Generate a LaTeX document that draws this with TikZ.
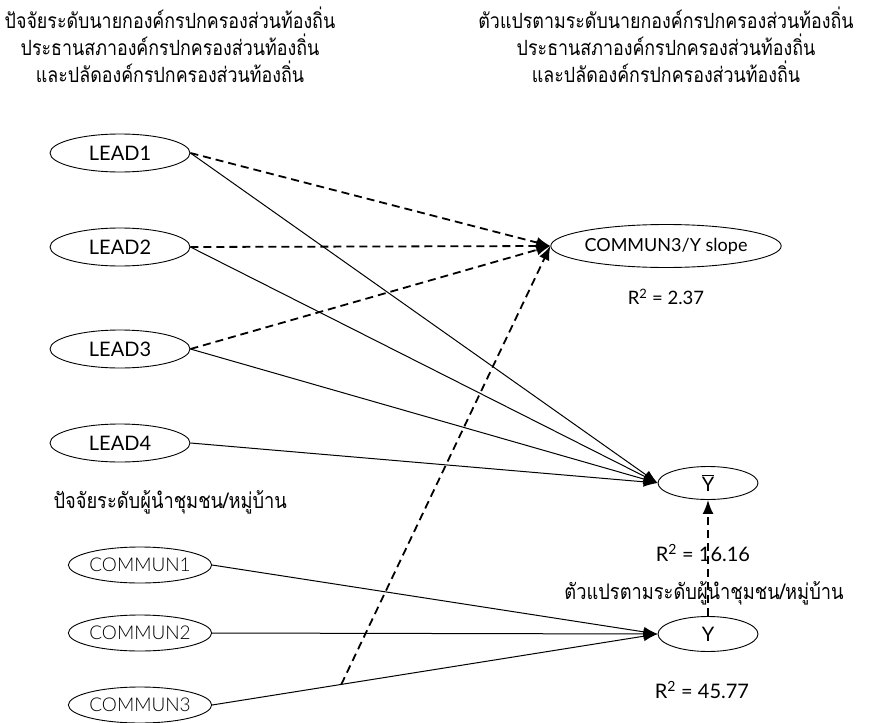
\documentclass[tikz,border=0pt]{standalone}
\usepackage{fontspec}
\setmainfont{Lato}
\newfontfamily\thaifont[Script=Thai,FakeStretch=0.85]{Loma}
\newfontfamily\lightfont{Lato Light}
\usetikzlibrary{shapes.geometric,arrows.meta,calc}

\begin{document}
\begin{tikzpicture}[x=1pt,y=-1pt,
    var/.style={draw,ellipse,line width=0.9pt,inner sep=0pt,font=\fontsize{20}{24}\selectfont},
    comm/.style={var,font=\lightfont\fontsize{19}{24}\selectfont,minimum width=135pt,minimum height=36pt},
    thai/.style={font=\thaifont\fontsize{21}{27}\selectfont,align=center},
    rsq/.style={font=\fontsize{20}{24}\selectfont},
    path/.style={-{Latex[length=14pt,width=10pt]},line width=1pt},
    mod/.style={-{Latex[length=14pt,width=11pt]},line width=1.8pt,dash pattern=on 8pt off 5pt}]
    \useasboundingbox (0,0) rectangle (876,723);
    % headings
    \node[thai] (headL) at (170,45) {ปัจจัยระดับนายกองค์กรปกครองส่วนท้องถิ่น\\ประธานสภาองค์กรปกครองส่วนท้องถิ่น\\และปลัดองค์กรปกครองส่วนท้องถิ่น};
    \node[thai] (headR) at (666,45) {ตัวแปรตามระดับนายกองค์กรปกครองส่วนท้องถิ่น\\ประธานสภาองค์กรปกครองส่วนท้องถิ่น\\และปลัดองค์กรปกครองส่วนท้องถิ่น};
    \node[thai,font=\thaifont\fontsize{21.5}{27}\selectfont,anchor=west] (headC) at (50,502) {ปัจจัยระดับผู้นำชุมชน/หมู่บ้าน};
    % leader level
    \node[var,minimum width=140pt,minimum height=38pt] (lead1) at (120,153) {LEAD1};
    \node[var,minimum width=140pt,minimum height=38pt] (lead2) at (120,247) {LEAD2};
    \node[var,minimum width=140pt,minimum height=38pt] (lead3) at (120,349) {LEAD3};
    \node[var,minimum width=140pt,minimum height=38pt] (lead4) at (120,443) {LEAD4};
    % community level
    \node[comm] (comm1) at (140,565) {COMMUN1};
    \node[comm] (comm2) at (140,633) {COMMUN2};
    \node[comm] (comm3) at (140,705) {COMMUN3};
    % outcomes
    \node[var,font=\fontsize{18}{22}\selectfont,minimum width=220pt,minimum height=43pt] (slope) at (666,246) {COMMUN3/Y slope};
    \node[rsq,font=\fontsize{18.5}{22}\selectfont] (r1) at (666,297) {R\textsuperscript{2} = 2.37};
    \node[var,minimum width=100pt,minimum height=33pt] (ybar) at (708,483) {$\overline{\hbox{Y}}$};
    \node[var,minimum width=100pt,minimum height=35pt] (y) at (708,634) {Y};
    \node[rsq] (r3) at (702,690) {R\textsuperscript{2} = 45.77};
    % paths
    \foreach \i in {1,2,3,4}
        \draw[path] (lead\i.east) -- (ybar.west);
    \foreach \i in {1,2,3}
        \draw[path] (comm\i.east) -- (y.west);
    \foreach \i in {1,2,3}
        \draw[mod] (lead\i.east) -- (slope.west);
    \coordinate (cross) at ($(comm3.east)!0.29!(y.west)$);
    \draw[mod] (cross) -- (slope.west);
    \draw[mod] (y.north) -- (ybar.south);
    \node[rsq] (r2) at (703,553) {R\textsuperscript{2} = 16.16};
    \node[thai,font=\thaifont\fontsize{21.5}{27}\selectfont] (yhead) at (704,593) {ตัวแปรตามระดับผู้นำชุมชน/หมู่บ้าน};
\end{tikzpicture}
\end{document}
